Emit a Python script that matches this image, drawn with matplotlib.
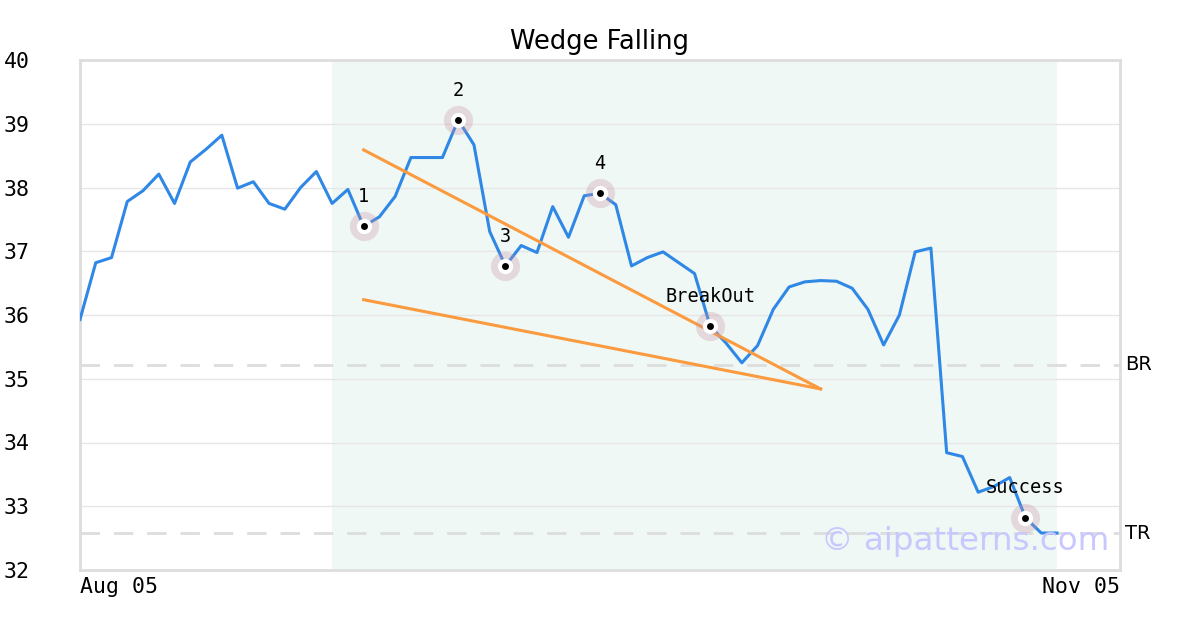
import matplotlib
matplotlib.use("Agg")
import matplotlib.pyplot as plt

# Kursverlauf (Handelstage ab Aug 05)
prices = [35.93, 36.82, 36.90, 37.78, 37.95, 38.21, 37.75, 38.40, 38.60, 38.82,
          37.99, 38.09, 37.75, 37.66, 38.00, 38.25, 37.75, 37.97, 37.39, 37.54,
          37.86, 38.47, 38.47, 38.47, 39.06, 38.67, 37.31, 36.77, 37.09, 36.98,
          37.70, 37.22, 37.87, 37.91, 37.73, 36.77, 36.90, 36.99, 36.82, 36.65,
          35.82, 35.56, 35.25, 35.52, 36.09, 36.44, 36.52, 36.54, 36.53, 36.42,
          36.09, 35.53, 36.00, 36.99, 37.05, 33.84, 33.78, 33.22, 33.31, 33.45,
          32.82, 32.58, 32.58]

# Markierte Punkte: Index und Beschriftung
point_idx = [18, 24, 27, 33, 40, 60]
point_labels = ["1", "2", "3", "4", "BreakOut", "Success"]

# Keil-Linien (Start/Ende)
upper_x = [18, 47]
upper_y = [38.59, 34.84]
lower_x = [18, 47]
lower_y = [36.24, 34.84]

shade_span = (16, 62)
br_level = 35.22
tr_level = 32.58

x_end = 66
xtick_labels = ["Aug 05", "Nov 05"]
yticks = list(range(32, 41))

mono = "DejaVu Sans Mono"

fig = plt.figure(figsize=(12, 6.3), dpi=100)
ax = fig.add_axes([80 / 1200, 1 - 570 / 630, 1040 / 1200, 510 / 630])

ax.axvspan(*shade_span, color="#eff8f4", zorder=0, lw=0)
for y in yticks:
    ax.axhline(y, color="#e6e6e6", lw=1, zorder=1)
for lvl in (br_level, tr_level):
    ax.axhline(lvl, color="#dddddd", lw=2, ls=(0, (7, 5)), zorder=1)

x = list(range(len(prices)))
ax.plot(x, prices, color="#2f87e6", lw=2.2, zorder=3)
ax.plot(upper_x, upper_y, color="#fb9a3e", lw=2.2, zorder=4)
ax.plot(lower_x, lower_y, color="#fb9a3e", lw=2.2, zorder=4)

px = point_idx
py = [prices[i] for i in point_idx]
ax.plot(px, py, "o", ms=21, color="#c890a4", alpha=0.3, mec="none", zorder=5)
ax.plot(px, py, "o", ms=11, color="white", mec="none", zorder=6)
ax.plot(px, py, "o", ms=5, color="black", mec="none", zorder=7)

for i, lab in zip(point_idx, point_labels):
    ax.annotate(lab, (i, prices[i]), xytext=(0, 21.5), textcoords="offset points",
                ha="center", va="center", fontsize=13.4, family=mono, zorder=8)

ax.text(1.005, br_level, "BR", transform=ax.get_yaxis_transform(),
        ha="left", va="center", fontsize=14)
ax.text(1.005, tr_level, "TR", transform=ax.get_yaxis_transform(),
        ha="left", va="center", fontsize=14)

ax.text(0.99, 0.055, "© aipatterns.com", transform=ax.transAxes, ha="right",
        va="center", fontsize=23.4, color="#c8c8ff", zorder=9)

ax.set_xlim(0, x_end)
ax.set_ylim(32, 40)
ax.set_yticks(yticks)
ax.set_yticklabels([str(v) for v in yticks], family=mono, fontsize=15.5)
ax.tick_params(axis="y", length=0, pad=36)
ax.set_xticks([0, x_end])
ax.set_xticklabels(xtick_labels, family=mono, fontsize=15.5)
xl = ax.get_xticklabels()
xl[0].set_ha("left")
xl[1].set_ha("right")
ax.tick_params(axis="x", length=0, pad=5)

for s in ax.spines.values():
    s.set_color("#dddddd")
    s.set_linewidth(2)

ax.set_title("Wedge Falling", fontsize=18.5, pad=8)

fig.savefig("out.png", dpi=100)
